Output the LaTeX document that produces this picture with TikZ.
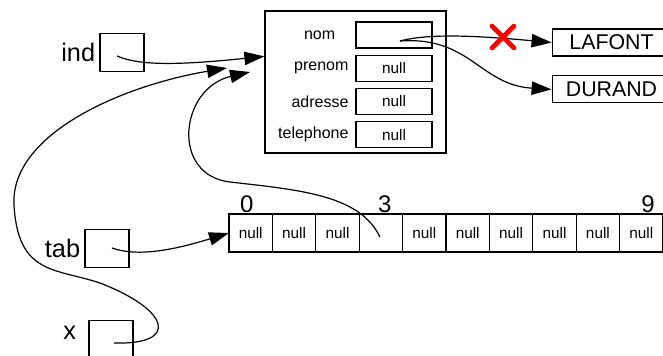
\documentclass[tikz,border=0pt]{standalone}
\usepackage{fontspec}
\setmainfont{Liberation Sans}
\usetikzlibrary{positioning, calc, arrows.meta}

\begin{document}
\begin{tikzpicture}[x=0.75pt, y=-0.75pt, >={Triangle[length=15pt, width=10pt]}]
  \tikzstyle{var}=[draw, line width=0.9pt, minimum width=33pt, minimum height=29pt, inner sep=0pt]
  \tikzstyle{lbl}=[font=\fontsize{19}{19}\selectfont, inner sep=1pt]
  \tikzstyle{field}=[draw, line width=0.9pt, minimum width=57pt, minimum height=19.5pt, inner sep=0pt, font=\fontsize{11.5}{12}\selectfont]
  \tikzstyle{fname}=[font=\fontsize{12}{12}\selectfont, inner sep=1pt]
  \tikzstyle{cell}=[draw, line width=0.9pt, outer sep=0pt, minimum width=32.55pt, minimum height=28.5pt, inner sep=0pt, font=\fontsize{11.5}{12}\selectfont]
  \tikzstyle{idx}=[font=\fontsize{18}{18}\selectfont, inner sep=1pt]
  \tikzstyle{str}=[draw, line width=0.9pt, minimum width=89pt, minimum height=20.25pt, inner sep=0pt, font=\fontsize{16}{16}\selectfont]
  \tikzstyle{ref}=[->, line width=0.9pt]
  \clip (0,0) rectangle (663,356);

  % variables
  \node[var] (ind) at (122,52.5) {};
  \node[lbl, left=2pt of ind] (indl) {ind};
  \node[var] (tab) at (107,248.5) {};
  \node[lbl, left=2pt of tab] (tabl) {tab};
  \node[var] (xv) at (111,339.5) {};
  \node[lbl, left=8pt of xv, yshift=5pt] (xl) {x};

  % object
  \node[draw, line width=0.9pt, minimum width=135.75pt, minimum height=106.5pt] (obj) at (355.5,82) {};
  \node[field] (nom) at (394,35) {};
  \node[field, below=4.5pt of nom] (prenom) {null};
  \node[field, below=4.5pt of prenom] (adresse) {null};
  \node[field, below=4.5pt of adresse] (telephone) {null};
  \node[fname, left=14pt of nom] (noml) {nom};
  \node[fname, left=4pt of prenom] (prenoml) {prenom};
  \node[fname, left=4pt of adresse] (adressel) {adresse};
  \node[fname, left=4pt of telephone] (telephonel) {telephone};

  % strings
  \node[str] (lafont) at (611.5,42.5) {LAFONT};
  \node[str, below=14pt of lafont] (durand) {DURAND};

  % array
  \node[cell] (c0) at (250.7,233) {null};
  \foreach \i [count=\p from 0] in {1,...,9}
    \node[cell, right=0pt of c\p] (c\i) {\ifnum\i=3 \else null\fi};
  \node[idx, above=0pt of c0, xshift=-3pt] (i0) {0};
  \node[idx, above=0pt of c3, xshift=3pt] (i3) {3};
  \node[idx, above=0pt of c9, xshift=5pt] (i9) {9};

  % references
  \coordinate (objin) at ($(obj.north west)+(0,46)$);
  \coordinate (tipx) at (227,68);
  \coordinate (tip3) at (250,72);
  \draw[ref] ($(ind.center)+(-5,3.5)$) .. controls (140,66) and (180,65) .. (objin);
  \draw[ref] ($(xv.center)+(3,3.5)$) .. controls (180,345) and (170,310) .. (100,283)
    .. controls (55,268) and (18,275) .. (14,205) .. controls (10,135) and (120,86) .. (tipx);
  \draw[ref] ($(c3.center)+(-1,4)$) .. controls (360,195) and (300,190) .. (230,182)
    .. controls (170,175) and (180,88) .. (tip3);
  \draw[ref] ($(tab.center)+(5,-0.5)$) .. controls (140,258) and (180,248) .. (c0.west);
  \draw[ref] ($(nom.center)+(6,6)$) .. controls (430,33) and (480,36) .. (lafont.west);
  \draw[ref] ($(nom.center)+(6,6)$) .. controls (470,36) and (480,85) .. (durand.west);

  % cut reference
  \coordinate (cut) at (503,37);
  \draw[red, line width=3.5pt, line cap=round] ($(cut)+(-11,-11)$) -- ($(cut)+(11,11)$)
    ($(cut)+(-11,11)$) -- ($(cut)+(11,-11)$);
\end{tikzpicture}
\end{document}
